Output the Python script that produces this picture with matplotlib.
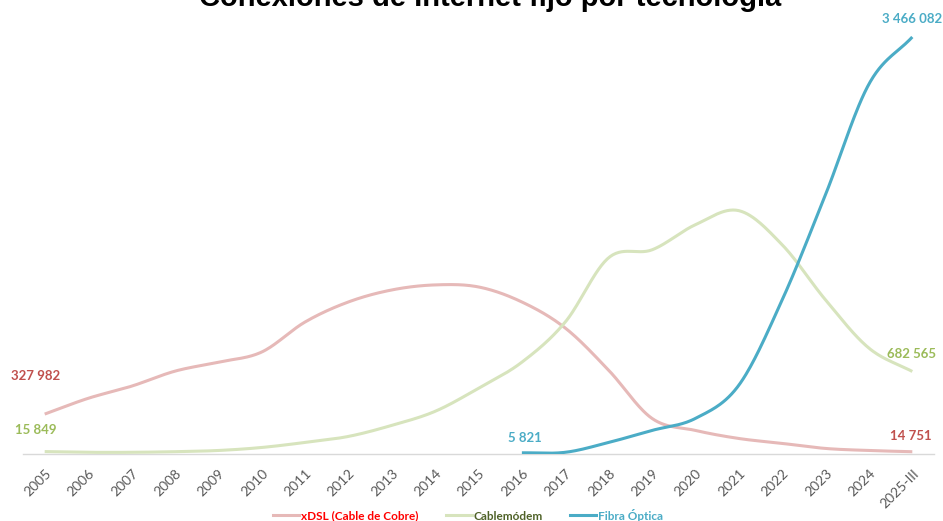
import numpy as np
import matplotlib
matplotlib.use("Agg")
import matplotlib.pyplot as plt
from matplotlib.lines import Line2D

categories = ["2005", "2006", "2007", "2008", "2009", "2010", "2011", "2012", "2013", "2014",
              "2015", "2016", "2017", "2018", "2019", "2020", "2021", "2022", "2023", "2024", "2025-III"]

xdsl = [327982, 459000, 560000, 685000, 760000, 844000, 1094000, 1261000, 1361000, 1403000,
        1386000, 1261000, 1044000, 693000, 292000, 192000, 125000, 84000, 42000, 25000, 14751]
cable = [15849, 10000, 10000, 15000, 25000, 50000, 92000, 142000, 234000, 351000,
         543000, 760000, 1094000, 1629000, 1695000, 1904000, 2021000, 1737000, 1278000, 877000, 682565]
fibra_start = 11
fibra = [5821, 10000, 92000, 192000, 292000, 568000, 1278000, 2155000, 3074000, 3466082]

series_names = ["xDSL (Cable de Cobre)", "Cablemódem", "Fibra Óptica"]
title = "Conexiones de Internet fijo por tecnología"


def smooth(x, y, n=30):
    x = np.asarray(x, float)
    y = np.asarray(y, float)
    px = np.concatenate([[2 * x[0] - x[1]], x, [2 * x[-1] - x[-2]]])
    py = np.concatenate([[2 * y[0] - y[1]], y, [2 * y[-1] - y[-2]]])
    xs, ys = [], []
    t = np.linspace(0, 1, n, endpoint=False)
    for i in range(1, len(px) - 2):
        p0, p1, p2, p3 = py[i - 1], py[i], py[i + 1], py[i + 2]
        q0, q1, q2, q3 = px[i - 1], px[i], px[i + 1], px[i + 2]
        cy = 0.5 * ((2 * p1) + (-p0 + p2) * t + (2 * p0 - 5 * p1 + 4 * p2 - p3) * t ** 2 + (-p0 + 3 * p1 - 3 * p2 + p3) * t ** 3)
        cx = 0.5 * ((2 * q1) + (-q0 + q2) * t + (2 * q0 - 5 * q1 + 4 * q2 - q3) * t ** 2 + (-q0 + 3 * q1 - 3 * q2 + q3) * t ** 3)
        xs.append(cx)
        ys.append(cy)
    xs.append([x[-1]])
    ys.append([y[-1]])
    return np.concatenate(xs), np.concatenate(ys)


c_xdsl, c_cable, c_fibra = "#E6B9B8", "#D7E4BD", "#4BACC6"
l_xdsl, l_cable, l_fibra = "#C0504D", "#9BBB59", "#4BACC6"

fig = plt.figure(figsize=(9.43, 5.21), dpi=100)
ax = fig.add_axes([23 / 943, (521 - 453.5) / 521, 911 / 943, 432.6 / 521])

x_all = np.arange(len(categories))
x_f = x_all[fibra_start:]

for xv, yv, col in [(x_all, xdsl, c_xdsl), (x_all, cable, c_cable), (x_f, fibra, c_fibra)]:
    sx, sy = smooth(xv, yv)
    ax.plot(sx, sy, color=col, lw=2.2, solid_capstyle="butt", zorder=3)

ax.set_xlim(-0.5, len(categories) - 0.5)
ax.set_ylim(0, 3.6e6)
for s in ["top", "right", "left"]:
    ax.spines[s].set_visible(False)
ax.spines["bottom"].set_color("#D9D9D9")
ax.spines["bottom"].set_linewidth(1)
ax.set_yticks([])
ax.set_xticks(x_all)
ax.set_xticklabels(categories, rotation=45, ha="right", rotation_mode="anchor",
                   fontsize=10, color="#595959", family="Lato")
ax.tick_params(axis="x", length=0, pad=10)

lab_font = dict(family="Lato", fontweight="bold", fontsize=9.5)


def fmt(v):
    return f"{v:,}".replace(",", " ")


ax.annotate(fmt(xdsl[0]), (x_all[0], xdsl[0]), xytext=(-9, 38), textcoords="offset pixels",
            ha="center", va="center", color=l_xdsl, **lab_font)
ax.annotate(fmt(cable[0]), (x_all[0], cable[0]), xytext=(-9, 22), textcoords="offset pixels",
            ha="center", va="center", color=l_cable, **lab_font)
ax.annotate(fmt(fibra[0]), (x_f[0], fibra[0]), xytext=(3, 15), textcoords="offset pixels",
            ha="center", va="center", color=l_fibra, **lab_font)
ax.annotate(fmt(fibra[-1]), (x_f[-1], fibra[-1]), xytext=(0, 18), textcoords="offset pixels",
            ha="center", va="center", color=l_fibra, **lab_font)
ax.annotate(fmt(cable[-1]), (x_all[-1], cable[-1]), xytext=(-1, 17), textcoords="offset pixels",
            ha="center", va="center", color=l_cable, **lab_font)
ax.annotate(fmt(xdsl[-1]), (x_all[-1], xdsl[-1]), xytext=(-1, 16), textcoords="offset pixels",
            ha="center", va="center", color=l_xdsl, **lab_font)

fig.text(490 / 943, 1 - 6 / 521, title, ha="center", va="baseline", fontsize=21,
         fontweight="bold", family="Liberation Sans", color="black")

handles = [Line2D([], [], color=c, lw=2.2) for c in (c_xdsl, c_cable, c_fibra)]
leg = fig.legend(handles, series_names, loc="center", bbox_to_anchor=(468 / 943, 1 - 515 / 521),
                 ncol=3, frameon=False, handlelength=2.2, handletextpad=0.15, columnspacing=2.3,
                 prop=dict(family="Lato", weight="bold", size=8.5))
for t, c in zip(leg.get_texts(), ["#FF0000", "#4F6228", "#4BACC6"]):
    t.set_color(c)

fig.savefig("out.png", dpi=100)
